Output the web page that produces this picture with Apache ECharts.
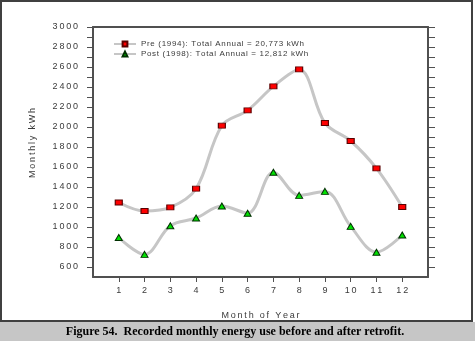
<!DOCTYPE html>
<html><head><meta charset="utf-8">
<script src="https://cdn.jsdelivr.net/npm/echarts@6/dist/echarts.min.js"></script>
<style>html,body{margin:0;padding:0;background:#fff}#c{width:475px;height:341px}</style>
</head><body><div id="c"></div>
<script>
const months = [1,2,3,4,5,6,7,8,9,10,11,12];
const preValues = [1245,1160,1196,1383,2013,2166,2406,2576,2040,1860,1586,1200];
const postValues = [895,726,1013,1090,1210,1138,1548,1316,1356,1006,748,920];
const seriesNames = ['Pre (1994): Total Annual = 20,773 kWh','Post (1998): Total Annual = 12,812 kWh'];
const yTickLabels = [600,800,1000,1200,1400,1600,1800,2000,2200,2400,2600,2800,3000];
const yMinorTicks = [600,700,800,900,1000,1100,1200,1300,1400,1500,1600,1700,1800,1900,2000,2100,2200,2300,2400,2500,2600,2700,2800,2900,3000];
const xTickLabels = months;

const sp = s => String(s).split('').join('\u200A');
const spw = s => String(s).split('').join('\u2009');
const FONT = 'Liberation Sans';
const chart = echarts.init(document.getElementById('c'));
const axisCol = '#505050';
const txtCol = '#3a3a3a';
chart.setOption({
  animation:false,
  backgroundColor:'#fff',
  grid:{left:93,right:47,top:27,bottom:64},
  legend:{
    left:113, top:40, padding:0, orient:'vertical', itemGap:2, itemWidth:22, itemHeight:6,
    textStyle:{fontFamily:FONT,fontSize:8,color:txtCol},
    formatter: n => sp(n),
    data: seriesNames
  },
  xAxis:[{
    type:'value', min:0, max:13, position:'bottom',
    name: spw('Month of Year'), nameLocation:'middle', nameGap:34,
    nameTextStyle:{fontFamily:FONT,fontSize:9,color:txtCol},
    axisLine:{show:true,onZero:false,lineStyle:{color:axisCol,width:2}},
    axisTick:{show:true,length:5,customValues:xTickLabels,lineStyle:{color:axisCol,width:1}},
    axisLabel:{customValues:xTickLabels,formatter:v=>spw(v),fontFamily:FONT,fontSize:9,color:txtCol,margin:9},
    splitLine:{show:false}
  },{
    type:'value', min:0, max:13, position:'top',
    axisLine:{show:true,onZero:false,lineStyle:{color:axisCol,width:2}},
    axisTick:{show:false}, axisLabel:{show:false}, splitLine:{show:false}
  }],
  yAxis:[{
    type:'value', min:500, max:3000, position:'left',
    axisLine:{show:true,onZero:false,lineStyle:{color:axisCol,width:2}},
    axisTick:{show:true,length:6,customValues:yMinorTicks,lineStyle:{color:axisCol,width:1}},
    axisLabel:{customValues:yTickLabels,formatter:v=>spw(v),fontFamily:FONT,fontSize:9,color:txtCol,margin:15},
    splitLine:{show:false}
  },{
    type:'value', min:500, max:3000, position:'right',
    axisLine:{show:true,onZero:false,lineStyle:{color:axisCol,width:2}},
    axisTick:{show:true,length:7,customValues:yMinorTicks,lineStyle:{color:axisCol,width:1}},
    axisLabel:{show:false}, splitLine:{show:false}
  }],
  graphic:[
    {type:'rect',shape:{x:1,y:1,width:471,height:320},style:{fill:'none',stroke:'#404040',lineWidth:2},silent:true,z:-1},
    {type:'rect',shape:{x:0,y:322,width:475,height:19},style:{fill:'#c6c6c6'},silent:true},
    {type:'text',x:235,y:332,style:{text:'Figure 54.  Recorded monthly energy use before and after retrofit.',font:'bold 12px "Liberation Serif"',fill:'#000',align:'center',verticalAlign:'middle'}},
    {type:'text',x:33,y:143,rotation:Math.PI/2,style:{text:spw('Monthly kWh'),font:'9px "Liberation Sans"',fill:txtCol,align:'center',verticalAlign:'middle'}}
  ],
  series:[{
    name:seriesNames[0], type:'line', smooth:0.35,
    data: months.map((m,i)=>[m,preValues[i]]),
    lineStyle:{color:'#c6c6c6',width:3},
    symbol:'rect', symbolSize:[7,5],
    itemStyle:{color:'#ff0000',borderColor:'#5a0000',borderWidth:1}
  },{
    name:seriesNames[1], type:'line', smooth:0.35,
    data: months.map((m,i)=>[m,postValues[i]]),
    lineStyle:{color:'#c6c6c6',width:3},
    symbol:'triangle', symbolSize:[7,6],
    itemStyle:{color:'#00e000',borderColor:'#003000',borderWidth:1}
  }]
});
</script></body></html>
